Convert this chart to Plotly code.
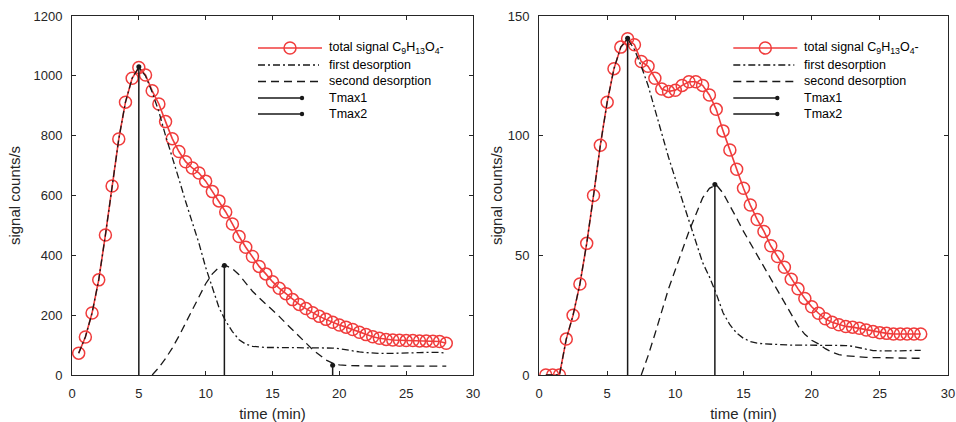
import plotly.graph_objects as go

# ---------------- data ----------------
time_total = [0.5 * i for i in range(1, 57)]  # 0.5 .. 28

left_total = [73, 127, 207, 318, 468, 632, 789, 912, 992, 1028,
              1003, 950, 906, 847, 790, 747, 713, 692, 675, 648,
              613, 582, 545, 505, 463, 427, 396, 363, 338, 312,
              290, 272, 252, 236, 222, 208, 196, 186, 176, 167,
              160, 152, 143, 135, 128, 123, 119, 117, 116, 115,
              115, 114, 114, 113, 112, 106]

left_first = [73, 127, 207, 318, 468, 632, 789, 912, 992, 1028,
              1000, 945, 880, 800, 730, 655, 580, 510, 440, 360,
              290, 225, 180, 145, 118, 103, 96, 93, 92, 92,
              92, 92, 92, 92, 92, 91, 91, 90, 90, 88,
              84, 80, 77, 75, 73, 72, 72, 72, 72, 73,
              74, 75, 76, 77, 76, 73]

left_second_time = [6 + 0.5 * i for i in range(0, 45)]  # 6 .. 28
left_second = [0, 25, 55, 90, 130, 175, 220, 262, 305, 338,
               360, 366, 355, 335, 308, 280, 258, 238, 218, 196,
               173, 152, 130, 107, 85, 66, 50, 40, 34, 32,
               31, 30, 30, 30, 30, 30, 30, 30, 30, 30,
               30, 30, 30, 30, 30]

left_tmax1_x = [5.0]
left_tmax1_y = [1030]
left_tmax2_x = [11.4, 19.5]
left_tmax2_y = [366, 33]

right_total = [0, 0, 0, 15, 25, 38, 55, 75, 96, 114,
               128, 137, 140.5, 138, 131, 129, 124, 119.5, 118.5, 119,
               121, 122.5, 122.5, 121, 117, 111, 102, 94, 86, 78,
               71, 65, 60, 54, 49.5, 45, 40, 36, 32, 28.5,
               25.8, 23.5, 22, 21, 20.3, 20, 19.5, 18.8, 18.2, 17.7,
               17.4, 17.1, 17.1, 17.1, 17.1, 17.1]

right_first = [0, 0, 0, 15, 25, 38, 55, 75, 96, 114,
               128, 137, 140.5, 136, 129, 121, 111, 100, 91, 82,
               73, 64, 55, 47, 41, 34, 26, 21, 17.5, 15.3,
               14, 13.3, 13, 12.8, 12.7, 12.6, 12.5, 12.5, 12.5, 12.5,
               12.5, 12.5, 12.5, 12.4, 12.3, 12, 11.3, 10.6, 10.2, 10.1,
               10, 10, 10.1, 10.2, 10.2, 10.3]

right_second_time = [7.5 + 0.5 * i for i in range(0, 42)]  # 7.5 .. 28
right_second = [0, 8, 17, 27, 36, 44, 52, 60, 67, 74,
                78, 79.5, 76, 71, 65.5, 60, 55, 50.5, 45.5, 40,
                35, 30, 25, 20.5, 17, 14.5, 13, 11, 9.5, 8.5,
                8, 7.7, 7.5, 7.4, 7.3, 7.2, 7.1, 7, 7, 7,
                7, 7]

right_tmax1_x = [6.5]
right_tmax1_y = [140.7]
right_tmax2_x = [12.9]
right_tmax2_y = [79.6]

x_ticks = [0, 5, 10, 15, 20, 25, 30]
left_y_ticks = [0, 200, 400, 600, 800, 1000, 1200]
right_y_ticks = [0, 50, 100, 150]

names = ["total signal C<sub>9</sub>H<sub>13</sub>O<sub>4</sub>-",
         "first desorption", "second desorption", "Tmax1", "Tmax2"]

# ---------------- styles ----------------
RED = "rgb(240,60,60)"
BLK = "rgb(25,25,25)"
FONT = "Liberation Sans, Arial, Helvetica, sans-serif"
AXC = "rgb(38,38,38)"
DASHDOT = "7px,3px,2px,3px"
DASH = "8px,5px"

W, H = 956, 422


def stem_xy(xs, ys):
    sx, sy = [], []
    for xv, yv in zip(xs, ys):
        sx += [xv, xv, None]
        sy += [0, yv, None]
    return sx, sy


fig = go.Figure()


def add_panel(xa, ya, t_tot, v_tot, v_first, t_sec, v_sec, t1x, t1y, t2x, t2y):
    fig.add_trace(go.Scatter(
        x=t_tot, y=v_tot, mode="lines+markers", name=names[0],
        line=dict(color=RED, width=1.6),
        marker=dict(symbol="circle-open", size=12, color=RED, line=dict(width=1.5, color=RED)),
        xaxis=xa, yaxis=ya))
    fig.add_trace(go.Scatter(
        x=t_tot, y=v_first, mode="lines", name=names[1],
        line=dict(color=BLK, width=1.3, dash=DASHDOT), xaxis=xa, yaxis=ya))
    fig.add_trace(go.Scatter(
        x=t_sec, y=v_sec, mode="lines", name=names[2],
        line=dict(color=BLK, width=1.3, dash=DASH), xaxis=xa, yaxis=ya))
    for nm, sxv, syv in ((names[3], t1x, t1y), (names[4], t2x, t2y)):
        sx, sy = stem_xy(sxv, syv)
        fig.add_trace(go.Scatter(
            x=sx, y=sy, mode="lines", name=nm,
            line=dict(color=BLK, width=1.5), xaxis=xa, yaxis=ya))
        fig.add_trace(go.Scatter(
            x=sxv, y=syv, mode="markers", name=nm,
            marker=dict(color=BLK, size=5), xaxis=xa, yaxis=ya))


add_panel("x", "y", time_total, left_total, left_first,
          left_second_time, left_second, left_tmax1_x, left_tmax1_y, left_tmax2_x, left_tmax2_y)
add_panel("x2", "y2", time_total, right_total, right_first,
          right_second_time, right_second, right_tmax1_x, right_tmax1_y, right_tmax2_x, right_tmax2_y)

# ---------------- hand-drawn legends (paper coordinates) ----------------
shapes = []
annotations = []
row_y = [48, 65, 81.5, 98, 114]


def px(xp):
    return xp / W


def py(yp):
    return 1 - yp / H


for x0 in (258, 733.3):
    shapes.append(dict(type="line", xref="paper", yref="paper", x0=px(x0), x1=px(x0 + 64),
                       y0=py(row_y[0]), y1=py(row_y[0]), line=dict(color=RED, width=1.6)))
    shapes.append(dict(type="circle", xref="paper", yref="paper",
                       x0=px(x0 + 32 - 6), x1=px(x0 + 32 + 6),
                       y0=py(row_y[0] + 6), y1=py(row_y[0] - 6),
                       line=dict(color=RED, width=1.5), fillcolor="rgba(0,0,0,0)"))
    shapes.append(dict(type="line", xref="paper", yref="paper", x0=px(x0), x1=px(x0 + 61),
                       y0=py(row_y[1]), y1=py(row_y[1]), line=dict(color=BLK, width=1.3, dash=DASHDOT)))
    shapes.append(dict(type="line", xref="paper", yref="paper", x0=px(x0), x1=px(x0 + 61),
                       y0=py(row_y[2]), y1=py(row_y[2]), line=dict(color=BLK, width=1.3, dash=DASH)))
    for r in (3, 4):
        shapes.append(dict(type="line", xref="paper", yref="paper", x0=px(x0), x1=px(x0 + 44),
                           y0=py(row_y[r]), y1=py(row_y[r]), line=dict(color=BLK, width=1.5)))
        shapes.append(dict(type="circle", xref="paper", yref="paper",
                           x0=px(x0 + 44 - 2.2), x1=px(x0 + 44 + 2.2),
                           y0=py(row_y[r] + 2.2), y1=py(row_y[r] - 2.2),
                           line=dict(color=BLK, width=0), fillcolor=BLK))
    for r, nm in enumerate(names):
        annotations.append(dict(text=nm, xref="paper", yref="paper", x=px(x0 + 69), y=py(row_y[r]),
                                xanchor="left", yanchor="middle", showarrow=False,
                                font=dict(size=12.5, color="black", family=FONT)))

axis_common = dict(showgrid=False, zeroline=False, showline=True, linecolor=AXC, linewidth=1,
                   mirror="ticks", ticks="inside", ticklen=4, tickcolor=AXC,
                   tickfont=dict(size=13, color=AXC, family=FONT),
                   title_font=dict(size=15, color=AXC, family=FONT), automargin=False)

ydom = [1 - 375 / H, 1 - 16 / H]

fig.update_layout(
    width=W, height=H, margin=dict(l=0, r=0, t=0, b=0),
    paper_bgcolor="white", plot_bgcolor="white",
    font=dict(family=FONT, color=AXC),
    showlegend=False,
    shapes=shapes, annotations=annotations,
    xaxis=dict(domain=[72 / W, 473 / W], range=[0, 30], tickvals=x_ticks, anchor="y",
               ticklabelstandoff=6, title=dict(text="time (min)", standoff=9), **axis_common),
    yaxis=dict(domain=ydom, range=[0, 1200], tickvals=left_y_ticks, anchor="x",
               ticklabelstandoff=6, title=dict(text="signal counts/s", standoff=9), **axis_common),
    xaxis2=dict(domain=[539 / W, 948 / W], range=[0, 30], tickvals=x_ticks, anchor="y2",
                ticklabelstandoff=6, title=dict(text="time (min)", standoff=9), **axis_common),
    yaxis2=dict(domain=ydom, range=[0, 150], tickvals=right_y_ticks, anchor="x2",
                ticklabelstandoff=6, title=dict(text="signal counts/s", standoff=1), **axis_common),
)

fig.write_html("out.html", config={"displayModeBar": False},
               post_script="document.body.style.margin='0px';document.body.style.overflow='hidden';")
